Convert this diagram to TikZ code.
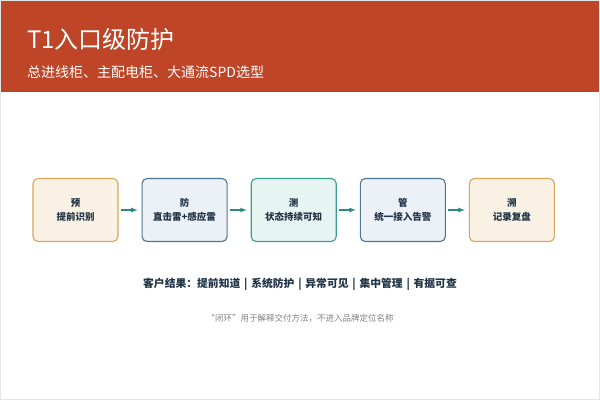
\documentclass[tikz,border=0pt]{standalone}
\usepackage{fontspec}
\setmainfont{Noto Sans CJK SC}
\usetikzlibrary{positioning}
\definecolor{bandred}{HTML}{BE4527}
\definecolor{sandfill}{HTML}{F9F1E3}
\definecolor{sanddraw}{HTML}{D6A75C}
\definecolor{bluefill}{HTML}{EBF1F7}
\definecolor{bluedraw}{HTML}{52758F}
\definecolor{tealfill}{HTML}{E7F5F2}
\definecolor{tealdraw}{HTML}{3A9E90}
\definecolor{flowteal}{HTML}{2A8A80}
\definecolor{navytext}{HTML}{1F3347}
\tikzset{
	stage/.style    = {shape=rectangle, rounded corners=5pt, draw, line width=1.1pt,
		minimum width=85pt, minimum height=63pt, align=center,
		font=\fontsize{9.5}{14}\selectfont\bfseries, text=navytext},
	sand/.style     = {stage, fill=sandfill, draw=sanddraw},
	bluish/.style   = {stage, fill=bluefill, draw=bluedraw},
	tealish/.style  = {stage, fill=tealfill, draw=tealdraw},
	flow/.style     = {draw=flowteal, line width=1.2pt, -latex}
}
\newcommand{\sepbar}{\hspace{0.35em}|\hspace{0.35em}}
\begin{document}
\begin{tikzpicture}
[
x                 = 1pt,
y                 = -1pt,
node distance     = 23pt,
every node/.style = {inner sep=0pt}
]
\useasboundingbox (0,0) rectangle (600,400);
\draw[black!10, line width=1pt] (0.5,0.5) rectangle (599.5,399.5);
% header band
\fill[bandred] (1,1) rectangle (599,92);
\node[anchor=base west, text=white, font=\fontsize{24}{27}\selectfont] (title) at (27,48) {T1入口级防护};
\node[anchor=base west, text=white, font=\fontsize{14}{17}\selectfont] (subtitle) at (27,77) {总进线柜、主配电柜、大通流SPD选型};
% stages
\node[sand] (yu) at (75.5,210) {预\\提前识别};
\node[bluish, right=of yu] (fang) {防\\直击雷+感应雷};
\node[tealish, right=of fang] (ce) {测\\状态持续可知};
\node[bluish, right=of ce] (guan) {管\\统一接入告警};
\node[sand, right=of guan] (su) {溯\\记录复盘};
\foreach \a/\b in {yu/fang, fang/ce, ce/guan, guan/su}
	\draw[flow] ([xshift=2pt]\a.east) -- ([xshift=-4pt]\b.west);
% notes
\node[font=\fontsize{10.8}{12}\selectfont\bfseries, text=navytext] (result) at (300,284)
	{客户结果：提前知道\sepbar 系统防护\sepbar 异常可见\sepbar 集中管理\sepbar 有据可查};
\node[font=\fontsize{8.5}{10}\selectfont, text=black!50] (note) at (300,318)
	{“闭环”用于解释交付方法，不进入品牌定位名称};
\end{tikzpicture}
\end{document}
